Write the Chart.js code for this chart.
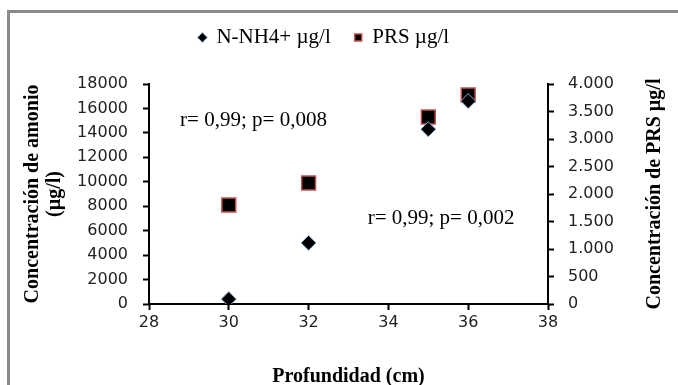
<!DOCTYPE html>
<html><head><meta charset="utf-8">
<script src="https://cdn.jsdelivr.net/npm/chart.js@4.4.1/dist/chart.umd.min.js"></script>
<style>html,body{margin:0;padding:0;background:#fff}#wrap{width:678px;height:385px;position:relative}</style>
</head><body><div id="wrap"><canvas id="c" width="678" height="385"></canvas></div>
<script>
// Data
const depthCm = [30, 32, 35, 36];
const nh4Values = [400, 5000, 14300, 16600];
const prsValues = [1800, 2200, 3400, 3800];
const seriesNames = ['N-NH4+ µg/l', 'PRS µg/l'];
const xTickValues = [28, 30, 32, 34, 36, 38];
const corrTexts = ['r= 0,99; p= 0,008', 'r= 0,99; p= 0,002'];
const rightTitle = 'Concentración de PRS µg/l';

const annotationAnchors = [{x: 28.78, y: 15050}, {x: 33.48, y: 7000}];

const serif = "'Liberation Serif', 'Times New Roman', serif";
const sans = "'DejaVu Sans', Verdana, sans-serif";

const framePlugin = {
  id: 'frame',
  beforeDraw(chart) {
    const ctx = chart.ctx;
    ctx.save();
    ctx.fillStyle = '#fff';
    ctx.fillRect(0, 0, chart.width, chart.height);
    ctx.strokeStyle = '#8a8a8a';
    ctx.lineWidth = 3;
    ctx.beginPath();
    ctx.moveTo(8.5, chart.height + 5);
    ctx.lineTo(8.5, 11.5);
    ctx.lineTo(chart.width + 5, 11.5);
    ctx.stroke();
    ctx.restore();
  }
};

const annotPlugin = {
  id: 'annot',
  afterDatasetsDraw(chart) {
    const ctx = chart.ctx;
    const xs = chart.scales.x, ys = chart.scales.y, ca = chart.chartArea;
    ctx.save();
    ctx.font = "21px " + serif;
    ctx.fillStyle = '#000';
    ctx.textAlign = 'left';
    ctx.textBaseline = 'middle';
    corrTexts.forEach((t, i) => {
      const a = annotationAnchors[i];
      ctx.fillText(t, xs.getPixelForValue(a.x), ys.getPixelForValue(a.y));
    });
    // right axis title, reading bottom-to-top
    const r = chart.scales.y1;
    ctx.translate(r.right - 23, (ca.top + ca.bottom) / 2);
    ctx.rotate(-Math.PI / 2);
    ctx.textAlign = 'center';
    ctx.font = "bold 20px " + serif;
    ctx.fillText(rightTitle, 0, 0);
    ctx.restore();
  }
};

const legendSpacer = {
  id: 'legendSpacer',
  beforeInit(chart) {
    const legend = chart.legend;
    if (!legend) return;
    const fit = legend.fit;
    legend.fit = function () { fit.call(this); this.height += 26; };
  },
  afterLayout(chart) {
    const l = chart.legend;
    if (l) { l.right -= 30; l.width -= 30; }
  }
};

const tickFont = {family: sans, size: 16};
const axisTicks = {display: true, drawOnChartArea: false, drawTicks: true, tickLength: 6, tickColor: '#000', tickWidth: 2};

new Chart(document.getElementById('c'), {
  type: 'scatter',
  data: {
    datasets: [
      {
        label: seriesNames[0],
        data: depthCm.map((d, i) => ({x: d, y: nh4Values[i]})),
        yAxisID: 'y',
        pointStyle: 'rectRot',
        pointRadius: 7.5,
        backgroundColor: '#000',
        borderColor: '#8fb0dc',
        borderWidth: 1,
        order: 1
      },
      {
        label: seriesNames[1],
        data: depthCm.map((d, i) => ({x: d, y: prsValues[i]})),
        yAxisID: 'y1',
        pointStyle: 'rect',
        pointRadius: 9.8,
        backgroundColor: '#000',
        borderColor: '#c0504d',
        borderWidth: 1.5,
        order: 2
      }
    ]
  },
  options: {
    responsive: false,
    animation: false,
    devicePixelRatio: 1,
    layout: {padding: {top: 3, left: 0, right: 0, bottom: 0}},
    plugins: {
      legend: {
        position: 'top',
        labels: {
          usePointStyle: true,
          boxHeight: 7,
          boxWidth: 7,
          padding: 24,
          color: '#000',
          font: {family: serif, size: 21}
        }
      },
      tooltip: {enabled: false}
    },
    scales: {
      x: {
        type: 'linear',
        min: 28, max: 38,
        afterBuildTicks(scale) { scale.ticks = xTickValues.map(v => ({value: v})); },
        afterFit(scale) { scale.height = 81; },
        border: {display: true, color: '#000', width: 2},
        grid: axisTicks,
        ticks: {color: '#222', padding: 3, font: tickFont, callback: v => String(v)},
        title: {display: true, text: 'Profundidad (cm)', color: '#000', padding: {top: 0, bottom: -3}, font: {family: serif, size: 20, weight: 'bold', lineHeight: 1.1}}
      },
      y: {
        position: 'left',
        min: 0, max: 18000,
        ticks: {stepSize: 2000, color: '#222', padding: 15, font: tickFont, callback: v => String(v)},
        afterFit(scale) { scale.width = 149; },
        border: {display: true, color: '#000', width: 2},
        grid: axisTicks,
        title: {display: true, text: ['Concentración de amonio', '(µg/l)'], color: '#000', padding: {top: 22, bottom: 0}, font: {family: serif, size: 20, weight: 'bold', lineHeight: 1.1}}
      },
      y1: {
        position: 'right',
        min: 0, max: 4000,
        ticks: {stepSize: 500, color: '#222', padding: 14, font: tickFont,
          callback: v => v.toLocaleString('de-DE')},
        afterFit(scale) { scale.width = 130; },
        border: {display: true, color: '#000', width: 2},
        grid: axisTicks
      }
    }
  },
  plugins: [framePlugin, annotPlugin, legendSpacer]
});
</script>
</body></html>
